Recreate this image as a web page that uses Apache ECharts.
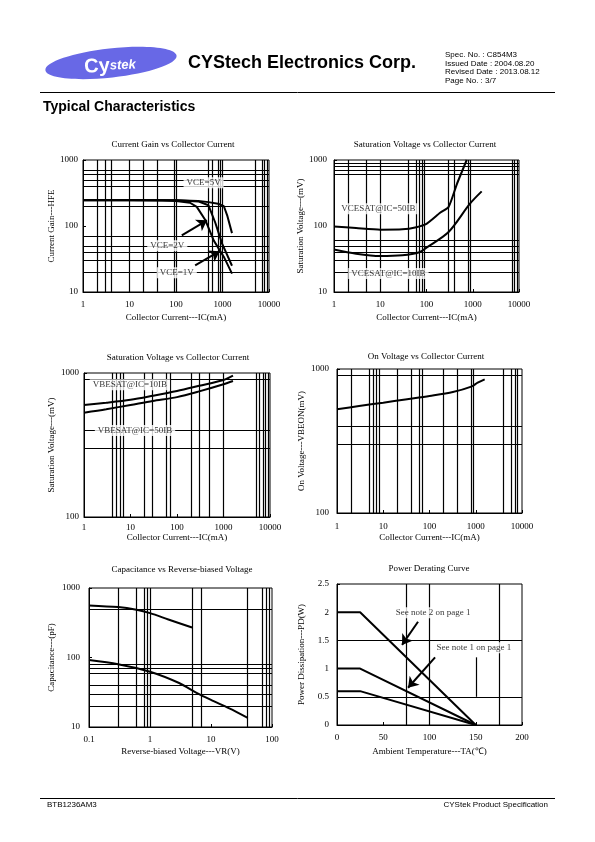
<!DOCTYPE html>
<html><head><meta charset="utf-8">
<script src="https://cdn.jsdelivr.net/npm/echarts@6/dist/echarts.min.js"></script>
<style>html,body{margin:0;padding:0;background:#fff}#c{width:595px;height:842px}</style>
</head><body><div id="c"></div>
<script>
// ---------- DATA ----------
// Chart 1: Current Gain vs Collector Current
const gainIC1V = [1, 10, 50, 100, 200, 280, 430, 650, 1070, 1600];
const gainHFE1V = [245, 245, 244, 240, 225, 195, 122, 60, 34, 19];
const gainIC2V = [1, 10, 100, 300, 500, 700, 980, 1600];
const gainHFE2V = [246, 246, 245, 236, 206, 112, 54, 25];
const gainIC5V = [1, 10, 100, 300, 500, 800, 1070, 1260, 1600];
const gainHFE5V = [247, 247, 246, 240, 230, 218, 199, 145, 78];
// Chart 2: VCE(sat) vs IC
const vceIC50 = [1, 3, 10, 30, 60, 100, 200, 300, 450, 740];
const vce50 = [98, 93, 88, 89, 96, 108, 160, 194, 425, 1000];
const vceIC10 = [1, 3, 10, 30, 70, 100, 300, 870, 1560];
const vce10 = [44, 38, 35, 36, 40, 47, 81, 218, 335];
// Chart 3: VBE(sat) vs IC
const vbeIC = [1, 3, 10, 30, 100, 300, 1000, 1600];
const vbe10 = [600, 622, 652, 695, 750, 815, 895, 960];
const vbe50 = [530, 560, 600, 640, 680, 745, 835, 880];
// Chart 4: VBE(on) vs IC
const onIC = [1, 3, 10, 30, 100, 320, 800, 1100, 1560];
const onV = [525, 553, 584, 615, 650, 692, 754, 804, 848];
// Chart 5: Capacitance vs VR
const capV1 = [0.1, 0.3, 0.6, 1, 2, 4.9];
const capC1 = [562, 531, 486, 435, 353, 270];
const capV2 = [0.1, 0.3, 1, 3, 5.8, 10, 20, 40];
const capC2 = [92, 80, 62.5, 43, 31, 24.5, 18.5, 13.5];
// Chart 6: Power derating
const tempA = [0, 25, 150];
const pdNote2 = [2, 2, 0];
const pdNote1 = [1, 1, 0];
const pdBase = [0.6, 0.6, 0];

// grid lines (data units)
const g1V = [2, 3, 4, 10, 20, 40, 90, 100, 500, 600, 800, 900, 1000, 5000, 7000, 8000, 9000];
const g1H = [700, 600, 500, 400, 200, 70, 50, 40, 30, 20];
const g2V = [2, 5, 10, 40, 60, 70, 80, 90, 300, 400, 800, 900, 7000, 8000, 9000];
const g2H = [900, 800, 700, 600, 60, 50, 40, 30, 20];
const g3V = [4, 5, 6, 7, 20, 30, 60, 70, 200, 300, 500, 1000, 5000, 6000, 7000, 8000, 9000];
const g3H = [900, 400, 300];
const g4V = [2, 5, 6, 7, 8, 20, 40, 60, 70, 200, 400, 800, 900, 4000, 6000, 7000, 8000];
const g4H = [900, 400, 300];
const g5V = [0.3, 0.6, 0.8, 0.9, 1, 5, 7, 40, 70, 80, 90];
const g5H = [500, 80, 70, 60, 40, 30, 20];
const g6V = [75, 100, 175];
const g6H = [1.5, 0.5];

// annotations (data units)
const c1Labels = [{t:'VCE=5V', x:392, y:453}, {t:'VCE=2V', x:65, y:50}, {t:'VCE=1V', x:104, y:19.5}];
const c1Arrows = [[133, 72, 464, 122], [258, 25.3, 870, 41.6]];
const c2Labels = [{t:'VCESAT@IC=50IB', x:9.1, y:183}, {t:'VCESAT@IC=10IB', x:15, y:19}];
const c3Labels = [{t:'VBESAT@IC=10IB', x:9.7, y:830}, {t:'VBESAT@IC=50IB', x:12.5, y:398}];
const c6Labels = [{t:'See note 2 on page 1', x:104, y:1.99}, {t:'See note 1 on page 1', x:148, y:1.37}];
const c6Arrows = [[87.6, 1.83, 70.3, 1.42], [106, 1.2, 76.8, 0.66]];

// ---------- BUILD ----------
const SERIF = "'Liberation Serif','Times New Roman',serif";
const SANS = "'Liberation Sans',Arial,sans-serif";
const FS = 9;
const zip = (a, b) => a.map((v, i) => [v, b[i]]);
const fmt = v => String(+Number(v).toPrecision(6));

const grids = [
  {left:83, top:160, width:186, height:132},
  {left:334, top:160, width:185, height:132},
  {left:84, top:373, width:186, height:144},
  {left:337, top:369, width:185, height:144},
  {left:89, top:588, width:183, height:139},
  {left:337, top:584, width:185, height:141}
].map(g => Object.assign({show:true, borderColor:'#000', borderWidth:1, backgroundColor:'transparent'}, g));

function axisBase(g, name, gap, margin) {
  return {
    gridIndex:g, name:name, nameLocation:'middle', nameGap:gap,
    nameTextStyle:{fontFamily:SERIF, fontSize:FS, color:'#000'},
    axisLine:{show:true, lineStyle:{color:'#000', width:1}},
    axisTick:{show:true, inside:true, length:3, lineStyle:{color:'#000'}},
    axisLabel:{fontFamily:SERIF, fontSize:FS, color:'#000', margin:margin, formatter:fmt, showMinLabel:true, showMaxLabel:true},
    splitLine:{show:false}, minorTick:{show:false}, minorSplitLine:{show:false}
  };
}
function logAx(g, min, max, name, gap, margin) {
  return Object.assign(axisBase(g, name, gap, margin), {type:'log', logBase:10, min:min, max:max});
}
function valAx(g, min, max, interval, name, gap, margin) {
  const a = Object.assign(axisBase(g, name, gap, margin), {type:'value', min:min, max:max, interval:interval});
  a.axisLabel.formatter = null;
  return a;
}

const xAxis = [
  logAx(0, 1, 10000, 'Collector Current---IC(mA)', 21.5, 8.5),
  logAx(1, 1, 10000, 'Collector Current---IC(mA)', 21.5, 8.5),
  logAx(2, 1, 10000, 'Collector Current---IC(mA)', 16.5, 6.5),
  logAx(3, 1, 10000, 'Collector Current---IC(mA)', 20.5, 9.5),
  logAx(4, 0.1, 100, 'Reverse-biased Voltage---VR(V)', 20.5, 8.5),
  valAx(5, 0, 200, 50, 'Ambient Temperature---TA(\u2103)', 22.5, 8.5)
];
const yAxis = [
  logAx(0, 10, 1000, 'Current Gain---HFE', 26.5, 5),
  logAx(1, 10, 1000, 'Saturation Voltage---(mV)', 26.5, 7),
  logAx(2, 100, 1000, 'Saturation Voltage---(mV)', 27.5, 5),
  logAx(3, 100, 1000, 'On Voltage---VBEON(mV)', 30.5, 8),
  logAx(4, 10, 1000, 'Capacitance---(pF)', 32.5, 9),
  valAx(5, 0, 2.5, 0.5, 'Power Dissipation---PD(W)', 31, 8)
];

const series = [];
function curve(g, xs, ys, smooth) {
  series.push({type:'line', xAxisIndex:g, yAxisIndex:g, data:zip(xs, ys), symbol:'none', showSymbol:false,
    smooth:smooth || false, silent:true, z:3, lineStyle:{color:'#000', width:2}});
}
function gridLines(g, vs, hs, extra) {
  series.push({type:'line', xAxisIndex:g, yAxisIndex:g, data:[], symbol:'none', silent:true, z:1,
    markLine:{silent:true, animation:false, symbol:['none', 'none'], label:{show:false},
      lineStyle:{color:'#000', width:1.2, type:'solid'},
      emphasis:{disabled:true},
      data:[...vs.map(v => ({xAxis:v})), ...hs.map(v => ({yAxis:v})), ...(extra || [])]}});
}
function labels(g, items, arrows) {
  const s = {type:'scatter', xAxisIndex:g, yAxisIndex:g, symbolSize:1, z:5, silent:true,
    itemStyle:{color:'rgba(0,0,0,0)'},
    data:items.map(it => ({value:[it.x, it.y], name:it.t})),
    label:{show:true, position:'inside', formatter:'{b}', color:'#000', fontFamily:SERIF, fontSize:FS,
      backgroundColor:'#fff', padding:[1, 3]}};
  if (arrows) {
    s.markLine = {silent:true, animation:false, symbol:['none', 'arrow'], symbolSize:10, label:{show:false},
      lineStyle:{color:'#000', width:2, type:'solid'}, emphasis:{disabled:true},
      data:arrows.map(a => [{coord:[a[0], a[1]]}, {coord:[a[2], a[3]]}])};
  }
  series.push(s);
}

gridLines(0, g1V, g1H);
curve(0, gainIC1V, gainHFE1V);
curve(0, gainIC2V, gainHFE2V);
curve(0, gainIC5V, gainHFE5V);
labels(0, c1Labels, c1Arrows);

gridLines(1, g2V, g2H);
curve(1, vceIC50, vce50, 0.2);
curve(1, vceIC10, vce10, 0.3);
labels(1, c2Labels);

gridLines(2, g3V, g3H);
curve(2, vbeIC, vbe10, 0.3);
curve(2, vbeIC, vbe50, 0.3);
labels(2, c3Labels);

gridLines(3, g4V, g4H);
curve(3, onIC, onV, 0.3);

gridLines(4, g5V, g5H);
curve(4, capV1, capC1, 0.3);
curve(4, capV2, capC2, 0.3);

gridLines(5, g6V, g6H, [[{coord:[150, 0.5]}, {coord:[150, 1.2]}]]);
curve(5, tempA, pdNote2);
curve(5, tempA, pdNote1);
curve(5, tempA, pdBase);
labels(5, c6Labels, c6Arrows);

const titles = [
  ['Current Gain vs Collector Current', 173, 145],
  ['Saturation Voltage vs Collector Current', 425, 145],
  ['Saturation Voltage vs Collector Current', 178, 358],
  ['On Voltage vs Collector Current', 426, 357],
  ['Capacitance vs Reverse-biased Voltage', 182, 570],
  ['Power Derating Curve', 429, 569]
];
const infoLines = ['Spec. No. : C854M3', 'Issued Date : 2004.08.20', 'Revised Date : 2013.08.12', 'Page No. : 3/7'];

const graphic = [
  {type:'ellipse', x:111, y:63, rotation:0.11, shape:{cx:0, cy:0, rx:66, ry:14.5}, style:{fill:'#6868e6'}},
  {type:'text', x:110, y:66, rotation:0.05, style:{text:'{a|Cy}{b|stek}', align:'center', verticalAlign:'middle',
    rich:{a:{fontFamily:SANS, fontWeight:'bold', fontSize:20, fill:'#fff', color:'#fff'},
          b:{fontFamily:SANS, fontWeight:'bold', fontStyle:'italic', fontSize:13, fill:'#fff', color:'#fff'}}}},
  {type:'text', x:188, y:63, style:{text:'CYStech Electronics Corp.', font:'bold 18px ' + SANS, fill:'#000', verticalAlign:'middle'}},
  {type:'line', shape:{x1:40, y1:92.5, x2:555, y2:92.5}, style:{stroke:'#000', lineWidth:1}},
  {type:'text', x:43, y:107, style:{text:'Typical Characteristics', font:'bold 14px ' + SANS, fill:'#000', verticalAlign:'middle'}},
  {type:'line', shape:{x1:40, y1:798.5, x2:555, y2:798.5}, style:{stroke:'#000', lineWidth:1}},
  {type:'text', x:47, y:805, style:{text:'BTB1236AM3', font:'8px ' + SANS, fill:'#000', verticalAlign:'middle'}},
  {type:'text', x:548, y:805, style:{text:'CYStek Product Specification', font:'8px ' + SANS, fill:'#000', align:'right', verticalAlign:'middle'}}
];
infoLines.forEach((t, i) => graphic.push({type:'text', x:445, y:55 + i * 8.6, style:{text:t, font:'8px ' + SANS, fill:'#000', verticalAlign:'middle'}}));
titles.forEach(t => graphic.push({type:'text', x:t[1], y:t[2], style:{text:t[0], font:FS + 'px ' + SERIF, fill:'#000', align:'center', verticalAlign:'middle'}}));

const chart = echarts.init(document.getElementById('c'), null, {renderer:'canvas', width:595, height:842});
chart.setOption({
  animation:false,
  backgroundColor:'#fff',
  grid:grids, xAxis:xAxis, yAxis:yAxis, series:series, graphic:graphic
});
</script></body></html>
